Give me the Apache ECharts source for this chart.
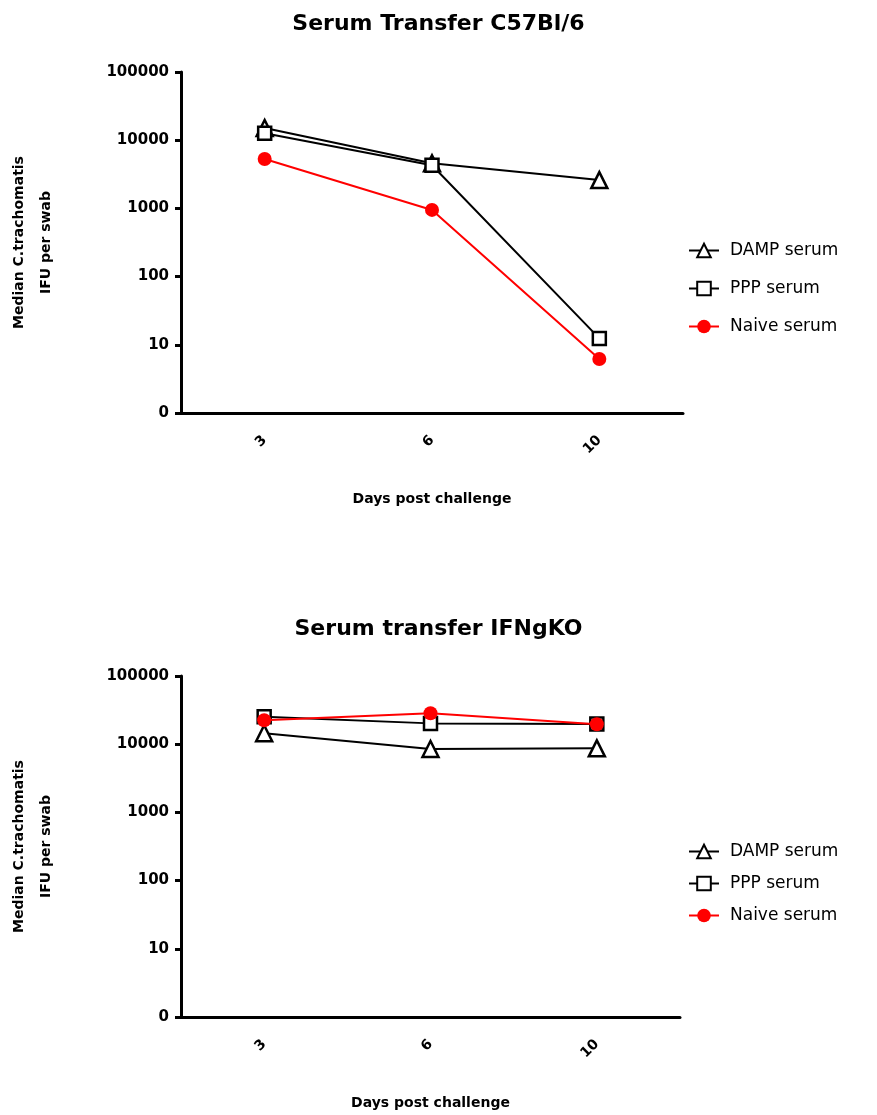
<!DOCTYPE html>
<html>
<head>
<meta charset="utf-8">
<script src="https://cdn.jsdelivr.net/npm/echarts@6/dist/echarts.min.js"></script>
<style>html,body{margin:0;padding:0;background:#fff}#c{width:877px;height:1115px}</style>
</head>
<body>
<div id="c"></div>
<script>
const days = ['3', '6', '10'];
const seriesNames = ['DAMP serum', 'PPP serum', 'Naive serum'];
const yTicks = [1, 10, 100, 1000, 10000, 100000];
// Top chart: Serum Transfer C57Bl/6
const c57Damp = [15100, 4600, 2600];
const c57Ppp = [12600, 4300, 12.4];
const c57Naive = [5300, 950, 6.2];
// Bottom chart: Serum transfer IFNgKO
const koDamp = [14500, 8500, 8700];
const koPpp = [25300, 20200, 19800];
const koNaive = [22400, 28400, 19600];

const FONT = 'DejaVu Sans';
const chart = echarts.init(document.getElementById('c'), null, {renderer: 'canvas'});

function xAxis(gi) {
  return {
    type: 'category', gridIndex: gi, data: days, boundaryGap: true,
    axisLine: {lineStyle: {color: '#000', width: 3}},
    axisTick: {show: false},
    axisLabel: {rotate: 45, margin: 25, color: '#000', fontWeight: 'bold', fontSize: 14, fontFamily: FONT},
    name: 'Days post challenge', nameLocation: 'middle', nameGap: 79,
    nameTextStyle: {color: '#000', fontWeight: 'bold', fontSize: 14, fontFamily: FONT}
  };
}
function yAxis(gi) {
  return {
    type: 'log', logBase: 10, gridIndex: gi, min: yTicks[0], max: yTicks[yTicks.length - 1],
    axisLine: {show: true, lineStyle: {color: '#000', width: 3}},
    axisTick: {show: true, length: 6, lineStyle: {color: '#000', width: 3}},
    splitLine: {show: false},
    axisLabel: {color: '#000', fontWeight: 'bold', fontSize: 15, fontFamily: FONT, margin: 12,
      formatter: v => (v === 1 ? '0' : String(Math.round(v)))},
    name: 'Median C.trachomatis\nIFU per swab', nameLocation: 'middle', nameRotate: 90, nameGap: 121,
    nameTextStyle: {color: '#000', fontWeight: 'bold', fontSize: 14, fontFamily: FONT, lineHeight: 27}
  };
}
function mkSeries(gi, damp, ppp, naive) {
  return [
    {name: seriesNames[0], type: 'line', xAxisIndex: gi, yAxisIndex: gi, data: damp,
      symbol: 'triangle', symbolSize: 16, lineStyle: {color: '#000', width: 2},
      itemStyle: {color: '#fff', borderColor: '#000', borderWidth: 2.5}, z: 3},
    {name: seriesNames[1], type: 'line', xAxisIndex: gi, yAxisIndex: gi, data: ppp,
      symbol: 'rect', symbolSize: 13, lineStyle: {color: '#000', width: 2},
      itemStyle: {color: '#fff', borderColor: '#000', borderWidth: 2.5}, z: 4},
    {name: seriesNames[2], type: 'line', xAxisIndex: gi, yAxisIndex: gi, data: naive,
      symbol: 'circle', symbolSize: 14, lineStyle: {color: '#ff0000', width: 2},
      itemStyle: {color: '#ff0000', borderColor: '#ff0000', borderWidth: 0}, z: 5}
  ];
}
function legend(top, gap) {
  return {
    orient: 'vertical', left: 683, top: top, itemWidth: 30, itemHeight: 17, itemGap: gap,
    data: seriesNames, selectedMode: false,
    textStyle: {color: '#000', fontSize: 17, fontFamily: FONT, padding: [0, 0, 0, 6]}
  };
}

chart.setOption({
  animation: false,
  backgroundColor: '#fff',
  title: [
    {text: 'Serum Transfer C57Bl/6', left: 'center', top: 8,
      textStyle: {color: '#000', fontWeight: 'bold', fontSize: 22, fontFamily: FONT}},
    {text: 'Serum transfer IFNgKO', left: 'center', top: 613,
      textStyle: {color: '#000', fontWeight: 'bold', fontSize: 22, fontFamily: FONT}}
  ],
  legend: [legend(237, 21), legend(838, 15)],
  grid: [
    {left: 181, top: 72, width: 502, height: 341, outerBoundsMode: 'none', containLabel: false},
    {left: 181, top: 676, width: 499, height: 341, outerBoundsMode: 'none', containLabel: false}
  ],
  xAxis: [xAxis(0), xAxis(1)],
  yAxis: [yAxis(0), yAxis(1)],
  series: [...mkSeries(0, c57Damp, c57Ppp, c57Naive), ...mkSeries(1, koDamp, koPpp, koNaive)]
});
</script>
</body>
</html>
